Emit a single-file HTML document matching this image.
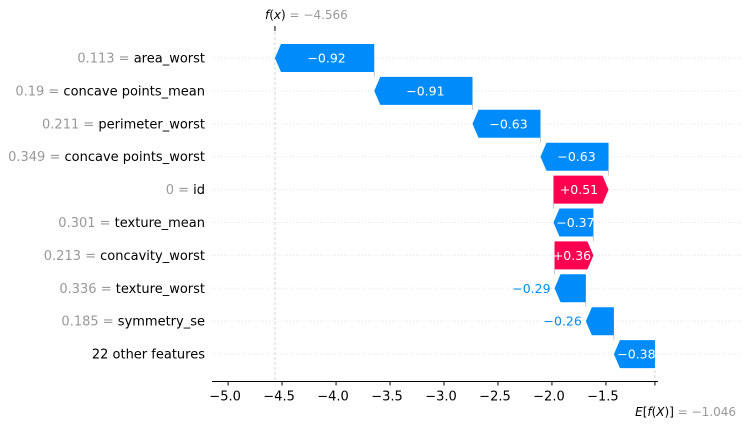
<!DOCTYPE html>
<html><head><meta charset="utf-8"><style>
html,body{margin:0;padding:0;background:#fff;width:743px;height:427px;overflow:hidden}
svg{font-family:"DejaVu Sans","Liberation Sans",sans-serif}
</style></head><body>
<svg id="chart" width="743" height="427" xmlns="http://www.w3.org/2000/svg"></svg>
<script>
const featureValues = ["0.113","0.19","0.211","0.349","0","0.301","0.213","0.336","0.185",""];
const featureNames = ["area_worst","concave points_mean","perimeter_worst","concave points_worst","id","texture_mean","concavity_worst","texture_worst","symmetry_se","22 other features"];
const shapValues = [-0.92,-0.91,-0.63,-0.63,0.51,-0.37,0.36,-0.29,-0.26,-0.38];
const baseValue = -1.046;
const tickValues = [-5.0,-4.5,-4.0,-3.5,-3.0,-2.5,-2.0,-1.5];
const tickLabels = ["−5.0","−4.5","−4.0","−3.5","−3.0","−2.5","−2.0","−1.5"];

const NS="http://www.w3.org/2000/svg";
const svg=document.getElementById('chart');
function mk(tag,attrs,parent){const e=document.createElementNS(NS,tag);for(const k in attrs)e.setAttribute(k,attrs[k]);(parent||svg).appendChild(e);return e;}
const x=v=>228.1+(v+5)*107.95;
const rowY=i=>58+i*32.9;
const BH=28, TIP=6, AXY=381.5;
const n=featureNames.length;
const starts=new Array(n), ends=new Array(n);
let cur=baseValue;
for(let i=n-1;i>=0;i--){starts[i]=cur;cur=cur+shapValues[i];ends[i]=cur;}
const fx=cur;

for(let i=0;i<n;i++){
  const g=mk('line',{x1:212,x2:743,y1:rowY(i),y2:rowY(i),stroke:'#e6e6e6','stroke-width':1,'stroke-dasharray':'1,2'});
  
  
}
const fl=mk('line',{x1:x(fx),x2:x(fx),y1:27,y2:AXY,stroke:'#cccccc','stroke-width':0.8,'stroke-dasharray':'3,2'});


const ft=mk('line',{x1:x(fx),x2:x(fx),y1:26,y2:31,stroke:'#000','stroke-width':1});


const el=mk('line',{x1:x(baseValue),x2:x(baseValue),y1:rowY(n-1)-BH/2,y2:AXY,stroke:'#cccccc','stroke-width':0.8,'stroke-dasharray':'3,2'});



for(let i=0;i<n-1;i++){
  const c=mk('line',{x1:x(starts[i]),x2:x(starts[i]),y1:rowY(i)+BH/2,y2:rowY(i+1)-BH/2,stroke:'#bbbbbb','stroke-width':0.8});
  
  
}

for(let i=0;i<n;i++){
  const v=shapValues[i], pos=v>0, col=pos?'#ff0051':'#008bfb';
  const a=x(starts[i]), b=x(ends[i]), y=rowY(i), t=BH/2;
  let pts;
  if(pos){ const tip=Math.min(TIP,b-a); pts=[[a,y-t],[b-tip,y-t],[b,y],[b-tip,y+t],[a,y+t]]; }
  else { const tip=Math.min(TIP,a-b); pts=[[a,y-t],[b+tip,y-t],[b,y],[b+tip,y+t],[a,y+t]]; }
  const p=mk('polygon',{points:pts.map(q=>q.join(',')).join(' '),fill:col});
  
  
  const label=(pos?'+':'−')+Math.abs(v).toFixed(2);
  const w=Math.abs(b-a);
  let tx;
  if(w>35){
    tx=mk('text',{x:(a+b)/2+(pos?-2:2),y:y+4.5,'text-anchor':'middle',fill:'#fff','font-size':12.5});
  } else {
    tx=mk('text',{x:pos?b+4:b-4,y:y+4.5,'text-anchor':pos?'start':'end',fill:col,'font-size':12.5});
  }
  tx.textContent=label;
  
  
  const yl=mk('text',{x:205,y:y+4.5,'text-anchor':'end','font-size':13});
  
  
  if(featureValues[i]!==''){
    const s1=mk('tspan',{fill:'#999'},yl);s1.textContent=featureValues[i]+' = ';
  }
  const s2=mk('tspan',{fill:'#000'},yl);s2.textContent=featureNames[i];
}

const ax=mk('line',{x1:212,x2:658,y1:AXY,y2:AXY,stroke:'#000','stroke-width':1});


for(let k=0;k<tickValues.length;k++){
  const tx=x(tickValues[k]);
  const tl=mk('line',{x1:tx,x2:tx,y1:AXY,y2:AXY+4,stroke:'#000','stroke-width':1});
  
  
  const t=mk('text',{x:tx-3,y:AXY+19,'text-anchor':'middle','font-size':13,fill:'#000'});
  t.textContent=tickLabels[k];
  
  
}
const et=mk('line',{x1:x(baseValue),x2:x(baseValue),y1:AXY,y2:AXY+4,stroke:'#000','stroke-width':1});



const fxl=mk('text',{x:265,y:19,'font-size':12});


const a1=mk('tspan',{fill:'#000','font-style':'italic'},fxl);a1.textContent='f';
const a2=mk('tspan',{fill:'#000'},fxl);a2.textContent='(';
const a3=mk('tspan',{fill:'#000','font-style':'italic'},fxl);a3.textContent='x';
const a4=mk('tspan',{fill:'#000'},fxl);a4.textContent=')';
const a5=mk('tspan',{fill:'#999'},fxl);a5.textContent=' = −'+Math.abs(fx).toFixed(3);

const exl=mk('text',{x:736,y:416,'text-anchor':'end','font-size':12});


const b1=mk('tspan',{fill:'#000','font-style':'italic'},exl);b1.textContent='E';
const b2=mk('tspan',{fill:'#000'},exl);b2.textContent='[';
const b3=mk('tspan',{fill:'#000','font-style':'italic'},exl);b3.textContent='f';
const b4=mk('tspan',{fill:'#000'},exl);b4.textContent='(';
const b5=mk('tspan',{fill:'#000','font-style':'italic'},exl);b5.textContent='X';
const b6=mk('tspan',{fill:'#000'},exl);b6.textContent=')]';
const b7=mk('tspan',{fill:'#999'},exl);b7.textContent=' = −'+Math.abs(baseValue).toFixed(3);
</script>
</body></html>
